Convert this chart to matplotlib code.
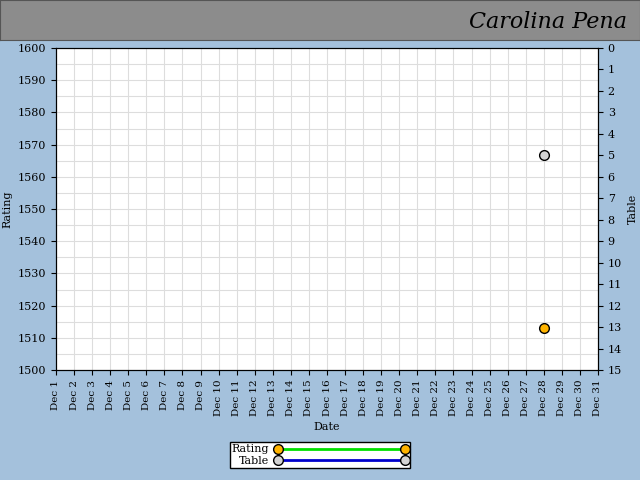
import matplotlib
matplotlib.use("Agg")
import matplotlib.pyplot as plt
from matplotlib.lines import Line2D

days = [f"Dec {i}" for i in range(1, 32)]
rating_days = [28]
rating_vals = [1513]
table_days = [28]
table_vals = [5]

fig = plt.figure(figsize=(6.4, 4.8), dpi=100)
fig.patch.set_facecolor("#a4c1dc")
hdr = fig.add_axes([0, 1 - 40/480, 1, 40/480])
hdr.set_facecolor("#8c8c8c")
hdr.set_xticks([]); hdr.set_yticks([])
for s in hdr.spines.values():
    s.set_color("#555555")
hdr.text(0.98, 0.45, "Carolina Pena", ha="right", va="center", fontsize=16,
         family="DejaVu Serif", style="italic", transform=hdr.transAxes)

ax = fig.add_axes([56/640, 1 - 370/480, (598-56)/640, (370-48)/480])
ax.set_facecolor("white")
ax.set_xlim(1, 31)
ax.set_ylim(1500, 1600)
ax.set_xticks(range(1, 32))
ax.set_xticklabels(days, rotation=90, fontsize=7.5, family="DejaVu Serif")
ax.set_yticks(range(1500, 1601, 10))
ax.set_yticks(range(1500, 1601, 5), minor=True)
ax.tick_params(axis="y", which="minor", length=0)
ax.tick_params(axis="y", labelsize=8)
for t in ax.get_yticklabels():
    t.set_family("DejaVu Serif")
ax.grid(True, which="both", color="#dddddd", linewidth=0.8)
ax.set_axisbelow(True)
ax.set_xlabel("Date", fontsize=8, family="DejaVu Serif")
ax.set_ylabel("Rating", fontsize=8, family="DejaVu Serif")
ax.plot(rating_days, rating_vals, "o", color="#00e000", markerfacecolor="#ffb400",
        markeredgecolor="black", markersize=7, zorder=5)

ax2 = ax.twinx()
ax2.set_ylim(15, 0)
ax2.set_yticks(range(0, 16))
ax2.tick_params(axis="y", labelsize=8)
for t in ax2.get_yticklabels():
    t.set_family("DejaVu Serif")
ax2.set_ylabel("Table", fontsize=8, family="DejaVu Serif")
ax2.plot(table_days, table_vals, "o", markerfacecolor="#d3d3d3",
         markeredgecolor="black", markersize=7, zorder=5)

h1 = Line2D([], [], color="#00e000", lw=2, marker="o", markerfacecolor="#ffb400",
            markeredgecolor="black", markersize=7)
h2 = Line2D([], [], color="#0000cc", lw=2, marker="o", markerfacecolor="#d3d3d3",
            markeredgecolor="black", markersize=7)
leg = fig.legend([h1, h2], ["Rating", "Table"], loc="center",
                 bbox_to_anchor=(320/640, 1 - 455/480), ncol=1,
                 prop={"family": "DejaVu Serif", "size": 8}, markerfirst=False,
                 handlelength=12, numpoints=2, fancybox=False, framealpha=1,
                 edgecolor="black", borderpad=0.2, labelspacing=0.1,
                 handletextpad=0.5)
fig.savefig("out.png", dpi=100, facecolor=fig.get_facecolor())
